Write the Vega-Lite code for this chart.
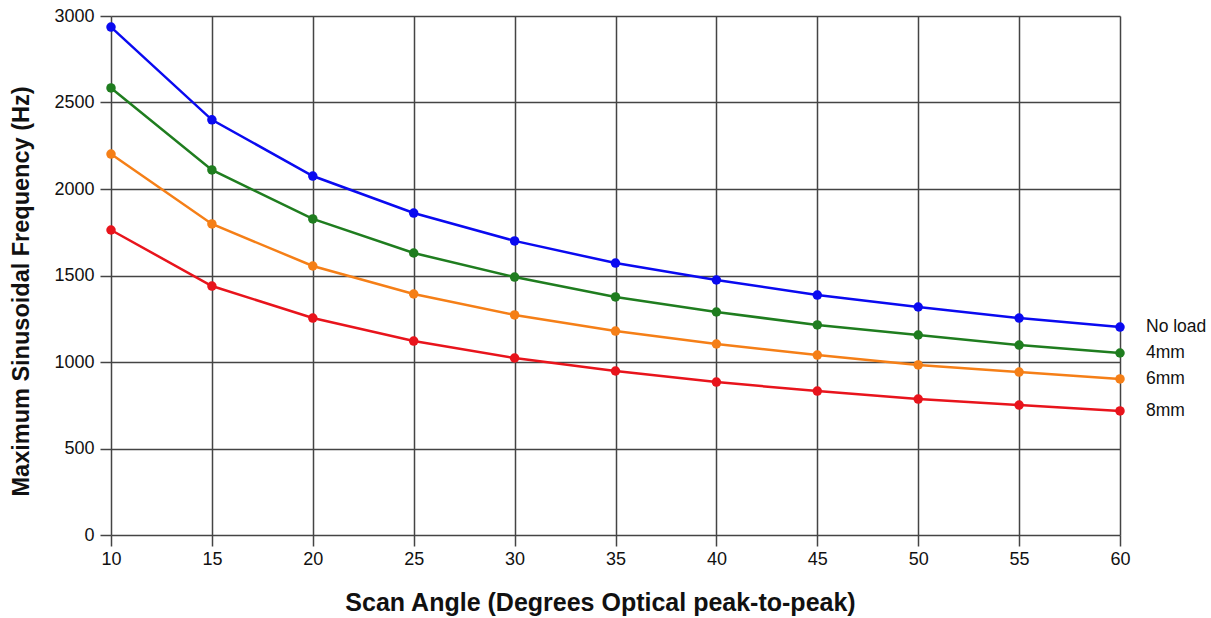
{
  "$schema": "https://vega.github.io/schema/vega-lite/v6.json",
  "width": 1009,
  "height": 519,
  "autosize": "none",
  "padding": {"left": 111, "top": 16, "right": 91, "bottom": 83},
  "background": "white",
  "config": {
    "view": {"stroke": null},
    "font": "Liberation Sans",
    "axis": {
      "gridColor": "#444444",
      "gridWidth": 1.5,
      "gridOpacity": 1,
      "domain": false,
      "tickColor": "#444444",
      "tickWidth": 1.5,
      "tickSize": 11,
      "labelFont": "Liberation Sans",
      "labelFontSize": 18,
      "labelColor": "#111111",
      "titleFont": "Liberation Sans",
      "titleFontWeight": "bold",
      "titleColor": "#111111"
    }
  },
  "data": {
    "values": [
      {"angle": 10, "freq": 2936, "series": "No load"},
      {"angle": 15, "freq": 2400, "series": "No load"},
      {"angle": 20, "freq": 2075, "series": "No load"},
      {"angle": 25, "freq": 1861, "series": "No load"},
      {"angle": 30, "freq": 1700, "series": "No load"},
      {"angle": 35, "freq": 1572, "series": "No load"},
      {"angle": 40, "freq": 1474, "series": "No load"},
      {"angle": 45, "freq": 1387, "series": "No load"},
      {"angle": 50, "freq": 1318, "series": "No load"},
      {"angle": 55, "freq": 1254, "series": "No load"},
      {"angle": 60, "freq": 1202, "series": "No load"},
      {"angle": 10, "freq": 2584, "series": "4mm"},
      {"angle": 15, "freq": 2110, "series": "4mm"},
      {"angle": 20, "freq": 1827, "series": "4mm"},
      {"angle": 25, "freq": 1630, "series": "4mm"},
      {"angle": 30, "freq": 1491, "series": "4mm"},
      {"angle": 35, "freq": 1376, "series": "4mm"},
      {"angle": 40, "freq": 1289, "series": "4mm"},
      {"angle": 45, "freq": 1214, "series": "4mm"},
      {"angle": 50, "freq": 1156, "series": "4mm"},
      {"angle": 55, "freq": 1098, "series": "4mm"},
      {"angle": 60, "freq": 1052, "series": "4mm"},
      {"angle": 10, "freq": 2202, "series": "6mm"},
      {"angle": 15, "freq": 1798, "series": "6mm"},
      {"angle": 20, "freq": 1555, "series": "6mm"},
      {"angle": 25, "freq": 1393, "series": "6mm"},
      {"angle": 30, "freq": 1272, "series": "6mm"},
      {"angle": 35, "freq": 1179, "series": "6mm"},
      {"angle": 40, "freq": 1104, "series": "6mm"},
      {"angle": 45, "freq": 1040, "series": "6mm"},
      {"angle": 50, "freq": 983, "series": "6mm"},
      {"angle": 55, "freq": 942, "series": "6mm"},
      {"angle": 60, "freq": 902, "series": "6mm"},
      {"angle": 10, "freq": 1763, "series": "8mm"},
      {"angle": 15, "freq": 1439, "series": "8mm"},
      {"angle": 20, "freq": 1254, "series": "8mm"},
      {"angle": 25, "freq": 1121, "series": "8mm"},
      {"angle": 30, "freq": 1023, "series": "8mm"},
      {"angle": 35, "freq": 948, "series": "8mm"},
      {"angle": 40, "freq": 884, "series": "8mm"},
      {"angle": 45, "freq": 832, "series": "8mm"},
      {"angle": 50, "freq": 786, "series": "8mm"},
      {"angle": 55, "freq": 751, "series": "8mm"},
      {"angle": 60, "freq": 717, "series": "8mm"}
    ]
  },
  "encoding": {
    "x": {
      "field": "angle",
      "type": "quantitative",
      "scale": {"domain": [10, 60], "nice": false, "zero": false},
      "axis": {"values": [10, 15, 20, 25, 30, 35, 40, 45, 50, 55, 60], "format": "d", "title": "Scan Angle (Degrees Optical peak-to-peak)", "titleFontSize": 25, "titlePadding": 22, "titleX": 489, "labelPadding": 4, "labelFlush": false}
    },
    "y": {
      "field": "freq",
      "type": "quantitative",
      "scale": {"domain": [0, 3000], "nice": false},
      "axis": {"values": [0, 500, 1000, 1500, 2000, 2500, 3000], "format": "d", "title": "Maximum Sinusoidal Frequency (Hz)", "titleFontSize": 23.5, "titlePadding": 20, "titleY": 275, "labelPadding": 6, "labelFlush": false}
    },
    "color": {
      "field": "series",
      "type": "nominal",
      "scale": {"domain": ["No load", "4mm", "6mm", "8mm"], "range": ["#0a0af0", "#1f7d1f", "#f57f17", "#e8141c"]},
      "legend": null
    }
  },
  "layer": [
    {"mark": {"type": "line", "strokeWidth": 2.5}},
    {"mark": {"type": "point", "filled": true, "size": 90, "opacity": 1}},
    {
      "transform": [{"filter": "datum.angle == 60"}],
      "mark": {"type": "text", "align": "left", "baseline": "middle", "dx": 26, "fontSize": 17.5, "color": "#111111"},
      "encoding": {"text": {"field": "series"}, "color": {"value": "#111111"}}
    }
  ]
}
